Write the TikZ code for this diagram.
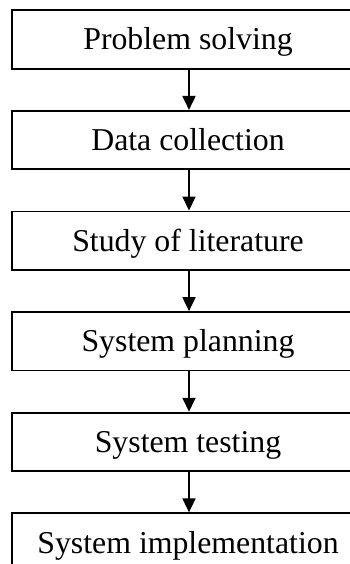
\documentclass[tikz,border=0pt]{standalone}
\usepackage{fontspec}
\setmainfont{Liberation Serif}
\usetikzlibrary{arrows.meta}
\begin{document}
\begin{tikzpicture}[x=1pt,y=1pt,
  stagebox/.style={draw=black, line width=1.8pt, minimum width=352pt, minimum height=58.5pt,
    inner sep=0pt, text height=21pt, text depth=0pt,
    font=\fontsize{31.8pt}{36pt}\selectfont, fill=white},
  flowarrow/.style={line width=1.8pt, -{Triangle[width=13pt,length=14pt]}}]
\useasboundingbox (0,0) rectangle (350,-564);
\clip (0,0) rectangle (350,-564);
\node[stagebox] (b1) at (188,-39.5) {Problem solving};
\node[stagebox] (b2) at (188,-140.1) {Data collection};
\node[stagebox] (b3) at (188,-240.7) {Study of literature};
\node[stagebox] (b4) at (188,-341.3) {System planning};
\node[stagebox] (b5) at (188,-441.9) {System testing};
\node[stagebox] (b6) at (188,-542.5) {System implementation};
\draw[flowarrow] (b1.south) ++(1,0) coordinate (a1s) -- (a1s |- b2.north);
\draw[flowarrow] (b2.south) ++(1,0) coordinate (a2s) -- (a2s |- b3.north);
\draw[flowarrow] (b3.south) ++(1,0) coordinate (a3s) -- (a3s |- b4.north);
\draw[flowarrow] (b4.south) ++(1,0) coordinate (a4s) -- (a4s |- b5.north);
\draw[flowarrow] (b5.south) ++(1,0) coordinate (a5s) -- (a5s |- b6.north);
\end{tikzpicture}
\end{document}
